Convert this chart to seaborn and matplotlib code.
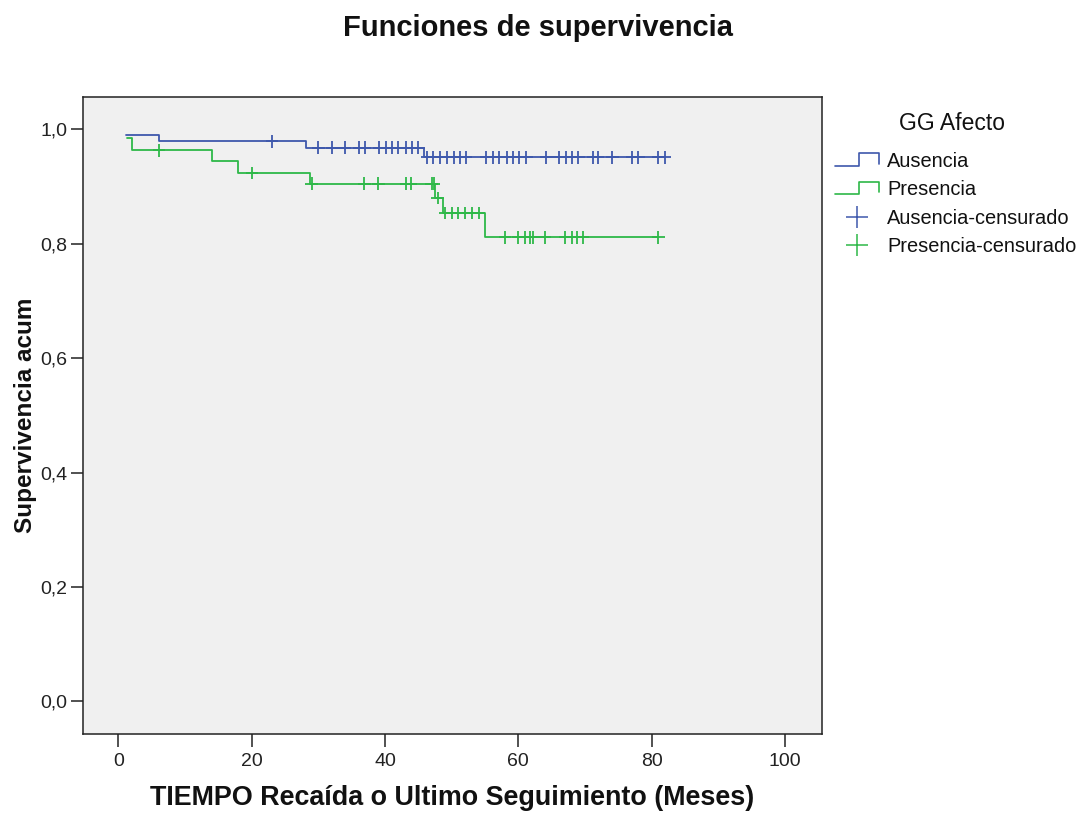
# Funciones de supervivencia (Kaplan-Meier) por GG Afecto
import numpy as np
import pandas as pd
import seaborn as sns
from matplotlib import pyplot as plt
from matplotlib.lines import Line2D
from matplotlib.legend_handler import HandlerBase

# Step points of each survival curve (time, cumulative survival after that time)
aus_t = [1.15, 6.05, 28.1, 45.9, 82.0]
aus_s = [0.990, 0.979, 0.968, 0.951, 0.951]
pre_t = [1.3, 2.05, 14.1, 17.95, 28.8, 47.5, 48.7, 55.0, 81.0]
pre_s = [0.984, 0.963, 0.944, 0.924, 0.905, 0.880, 0.854, 0.811, 0.811]

# Censored times
aus_cens = [23.0, 30.0, 32.1, 34.0, 36.1, 37.0, 39.1, 40.2, 41.1, 42.0, 43.2, 44.1, 45.0,
            46.3, 47.2, 48.3, 49.3, 50.3, 51.2, 52.1, 55.2, 56.2, 57.1, 58.3, 59.2, 60.1,
            61.2, 64.2, 66.1, 67.2, 68.1, 69.0, 71.2, 71.9, 74.1, 77.1, 78.0, 81.0, 82.0]
pre_cens = [6.1, 20.0, 29.0, 36.9, 39.0, 43.2, 43.9, 47.0, 47.3, 47.9, 49.0, 50.1, 51.0,
            52.0, 53.0, 54.1, 58.0, 60.0, 61.0, 61.8, 62.2, 64.0, 67.0, 68.1, 68.8, 69.7, 81.0]

groups = ['Ausencia', 'Presencia']
colors = {'Ausencia': '#3e58ac', 'Presencia': '#2eb848'}
x_ticks = [0, 20, 40, 60, 80, 100]
y_ticks = [0.0, 0.2, 0.4, 0.6, 0.8, 1.0]


def surv_at(times, surv, c):
    # value of the step function at a censored time
    idx = np.searchsorted(times, c, side='right') - 1
    return surv[max(idx, 0)]


curves = pd.concat([
    pd.DataFrame({'t': aus_t, 's': aus_s, 'grupo': 'Ausencia'}),
    pd.DataFrame({'t': pre_t, 's': pre_s, 'grupo': 'Presencia'}),
])
cens = pd.concat([
    pd.DataFrame({'t': aus_cens, 's': [surv_at(aus_t, aus_s, c) for c in aus_cens],
                  'grupo': 'Ausencia'}),
    pd.DataFrame({'t': pre_cens, 's': [surv_at(pre_t, pre_s, c) for c in pre_cens],
                  'grupo': 'Presencia'}),
])

sns.set_theme(style='white')
plt.rcParams['font.family'] = ['Liberation Sans', 'DejaVu Sans']

fig = plt.figure(figsize=(10.8, 8.16), dpi=100)
ax = fig.add_axes([0.0766, 0.1005, 0.6842, 0.781])
ax.set_facecolor('#f0f0f0')

sns.lineplot(data=curves, x='t', y='s', hue='grupo', palette=colors, estimator=None,
             sort=False, drawstyle='steps-post', linewidth=1.3, legend=False, ax=ax)
sns.scatterplot(data=cens, x='t', y='s', hue='grupo', palette=colors, marker='+',
                s=80, linewidth=1.3, legend=False, ax=ax, zorder=3)

ax.set_xlim(-5.35, 105.5)
ax.set_ylim(-0.057, 1.057)
ax.set_xticks(x_ticks)
ax.set_yticks(y_ticks)
ax.set_xticklabels([str(v) for v in x_ticks])
ax.set_yticklabels([f'{v:.1f}'.replace('.', ',') for v in y_ticks])
ax.tick_params(axis='both', direction='out', length=9, width=1.1, color='#222222',
               labelsize=14, labelcolor='#222222', bottom=True, left=True)
ax.tick_params(axis='x', pad=5)
ax.tick_params(axis='y', pad=2)
for sp in ax.spines.values():
    sp.set_color('#222222')
    sp.set_linewidth(1.1)
    sp.set_visible(True)

ax.set_xlabel('TIEMPO Recaída o Ultimo Seguimiento (Meses)', fontsize=19.4,
              fontweight='bold', color='#111111', va='center')
ax.set_ylabel('Supervivencia acum', fontsize=17.5, fontweight='bold', color='#111111',
              va='center')
ax.xaxis.set_label_coords(0.5, -0.1004)
ax.yaxis.set_label_coords(-0.0775, 0.5)

fig.text(0.498, 1 - 28 / 816, 'Funciones de supervivencia', fontsize=21,
         fontweight='bold', ha='center', va='center', color='#111111')
fig.text(952 / 1080, 1 - 123 / 816, 'GG Afecto', fontsize=16.5, ha='center',
         va='center', color='#111111')


class StepHandler(HandlerBase):
    def create_artists(self, legend, orig_handle, xdescent, ydescent, width, height,
                       fontsize, trans):
        xs = np.array([0, 0.55, 0.55, 1.0, 1.0]) * width - xdescent
        ys = np.array([0.1, 0.1, 0.95, 0.95, 0.25]) * height - ydescent
        line = Line2D(xs, ys, color=orig_handle.get_color(), linewidth=1.2)
        line.set_transform(trans)
        return [line]


step_handles = [Line2D([], [], color=colors[g]) for g in groups]
cens_handles = [Line2D([], [], color=colors[g], marker='+', linestyle='none',
                       markersize=16, markeredgewidth=1.1) for g in groups]
labels = groups + [g + '-censurado' for g in groups]
leg = fig.legend(step_handles + cens_handles, labels, loc='upper left',
                 bbox_to_anchor=(835 / 1080, 1 - 152 / 816), frameon=False,
                 borderpad=0, borderaxespad=0, fontsize=14.4, handlelength=2.2,
                 handleheight=0.75, handletextpad=0.4, labelspacing=0.47,
                 handler_map={h: StepHandler() for h in step_handles})
for t in leg.get_texts():
    t.set_color('#111111')

plt.savefig('out.png', dpi=100)
